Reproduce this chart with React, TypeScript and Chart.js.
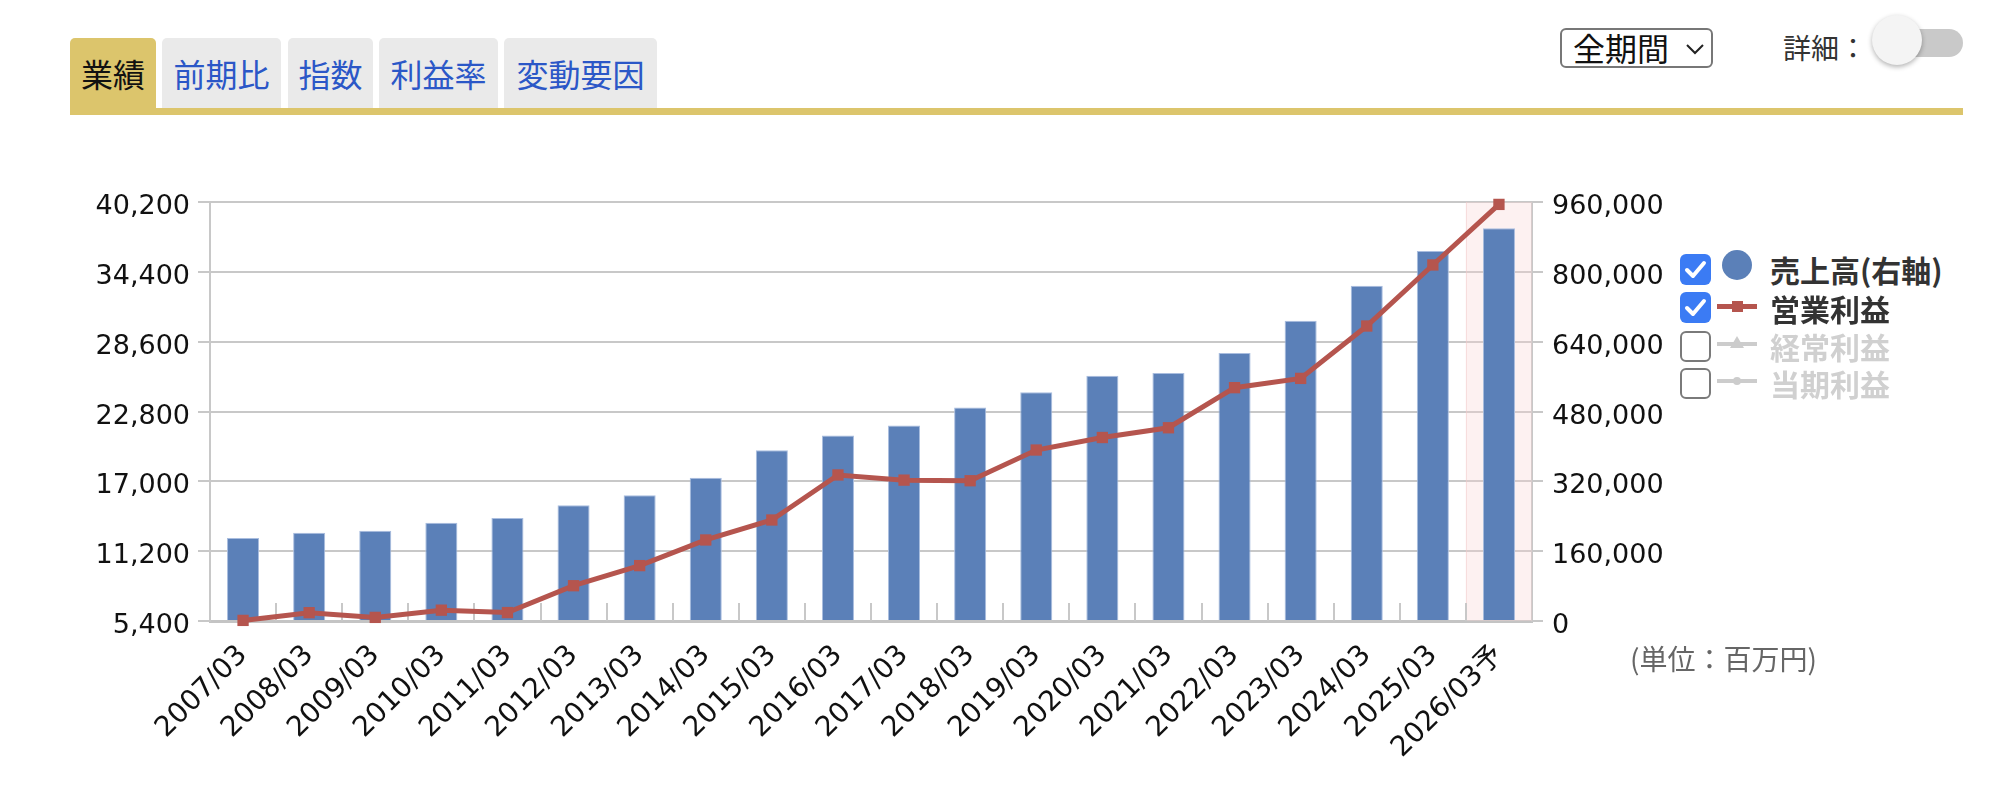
import React, { useEffect, useRef } from 'react';
import { Chart, registerables } from 'chart.js';

Chart.register(...registerables);

// ---- data ----
const categories = [
  '2007/03', '2008/03', '2009/03', '2010/03', '2011/03', '2012/03', '2013/03',
  '2014/03', '2015/03', '2016/03', '2017/03', '2018/03', '2019/03', '2020/03',
  '2021/03', '2022/03', '2023/03', '2024/03', '2025/03', '2026/03予',
];
// 売上高 (right axis)
const salesValues = [
  190000, 202000, 207000, 225000, 236000, 265000, 288000, 328000, 391000, 425000,
  448000, 489000, 524000, 562000, 568000, 614000, 688000, 768000, 848000, 900000,
];
// 営業利益 (left axis)
const opProfitValues = [
  5450, 6090, 5700, 6300, 6100, 8330, 10000, 12130, 13790, 17530,
  17100, 17050, 19600, 20640, 21450, 24780, 25550, 29900, 34970, 40000,
];
const leftAxisMin = 5400;
const leftAxisMax = 40200;
const leftAxisStep = 5800;
const rightAxisMin = 0;
const rightAxisMax = 960000;
const rightAxisStep = 160000;

const tabLabels = ['業績', '前期比', '指数', '利益率', '変動要因'];
const legendLabels = ['売上高(右軸)', '営業利益', '経常利益', '当期利益'];

const FONT_NUM = "'DejaVu Sans', 'Noto Sans CJK JP', sans-serif";
const FONT_JP = "'Noto Sans CJK JP', 'Noto Sans', sans-serif";

const BAR_COLOR = '#5b80b8';
const LINE_COLOR = '#b5554e';
const GRID_COLOR = '#c8c8c8';

const decorPlugin = {
  id: 'decor',
  beforeDatasetsDraw(chart: any) {
    const { ctx, chartArea } = chart;
    const xs = chart.scales.x;
    const n = categories.length;
    const half = (xs.getPixelForValue(1) - xs.getPixelForValue(0)) / 2;
    ctx.save();
    // forecast highlight
    const hx = xs.getPixelForValue(n - 1);
    ctx.fillStyle = 'rgba(248, 210, 210, 0.32)';
    ctx.fillRect(hx - half, chartArea.top, half * 2, chartArea.bottom - chartArea.top);
    ctx.strokeStyle = 'rgba(240, 200, 200, 0.55)';
    ctx.lineWidth = 1;
    ctx.beginPath();
    ctx.moveTo(hx - half + 0.5, chartArea.top);
    ctx.lineTo(hx - half + 0.5, chartArea.bottom);
    ctx.stroke();
    // inner category ticks
    ctx.strokeStyle = GRID_COLOR;
    ctx.lineWidth = 2;
    ctx.beginPath();
    for (let i = 1; i < n; i++) {
      const px = Math.round(xs.getPixelForValue(i) - half);
      ctx.moveTo(px, chartArea.bottom);
      ctx.lineTo(px, chartArea.bottom - 18);
    }
    ctx.stroke();
    ctx.restore();
  },
};

const fmt = (v: any) => Number(v).toLocaleString('en-US');

function CheckBox({ checked, top }: { checked: boolean; top: number }) {
  return (
    <div
      style={{
        position: 'absolute', left: 1680, top, width: 31, height: 31, boxSizing: 'border-box',
        borderRadius: 6, background: checked ? '#3b7bf4' : '#fff',
        border: checked ? 'none' : '2px solid #7a7a7a',
      }}
    >
      {checked && (
        <svg width="31" height="31" viewBox="0 0 31 31" style={{ position: 'absolute', left: 0, top: 0 }}>
          <path d="M7 16 L13 22 L24 9" fill="none" stroke="#fff" strokeWidth="4" strokeLinecap="round" strokeLinejoin="round" />
        </svg>
      )}
    </div>
  );
}

export default function App() {
  const canvasRef = useRef<HTMLCanvasElement | null>(null);

  useEffect(() => {
    if (!canvasRef.current) return;
    const chart = new Chart(canvasRef.current, {
      type: 'bar',
      data: {
        labels: categories,
        datasets: [
          {
            type: 'line',
            label: '営業利益',
            data: opProfitValues,
            yAxisID: 'y',
            borderColor: LINE_COLOR,
            backgroundColor: LINE_COLOR,
            borderWidth: 5,
            pointStyle: 'rect',
            pointRadius: 8,
            pointBorderWidth: 0,
            tension: 0,
            clip: false as any,
            order: 0,
          } as any,
          {
            type: 'bar',
            label: '売上高(右軸)',
            data: salesValues,
            yAxisID: 'y1',
            backgroundColor: BAR_COLOR,
            borderColor: '#a9bddf',
            borderWidth: 1,
            barPercentage: 0.485,
            categoryPercentage: 1,
            order: 1,
          } as any,
        ],
      },
      options: {
        animation: false,
        responsive: true,
        maintainAspectRatio: false,
        layout: { padding: { top: 52, left: 0, right: 0, bottom: 0 } },
        plugins: { legend: { display: false }, tooltip: { enabled: false } },
        font: { family: FONT_NUM, size: 27 } as any,
        scales: {
          x: {
            type: 'category',
            offset: true,
            grid: { display: false },
            border: { display: true, color: '#c4c4c4', width: 3 },
            ticks: {
              autoSkip: false,
              minRotation: 45,
              maxRotation: 45,
              padding: 10,
              color: '#111',
              font: { family: FONT_NUM, size: 28 },
            },
            afterFit: (s: any) => { s.height = 169; },
          },
          y: {
            type: 'linear',
            position: 'left',
            min: leftAxisMin,
            max: leftAxisMax,
            ticks: {
              stepSize: leftAxisStep,
              padding: 8,
              labelOffset: 5,
              color: '#111',
              font: { family: FONT_NUM, size: 27 },
              callback: (v: any) => fmt(v),
            },
            grid: { color: GRID_COLOR, lineWidth: 2, tickLength: 12, drawTicks: true },
            border: { display: true, color: GRID_COLOR, width: 2 },
            afterFit: (s: any) => { s.width = 150; },
          },
          y1: {
            type: 'linear',
            position: 'right',
            min: rightAxisMin,
            max: rightAxisMax,
            ticks: {
              stepSize: rightAxisStep,
              padding: 9,
              labelOffset: 5,
              color: '#111',
              font: { family: FONT_NUM, size: 27 },
              callback: (v: any) => fmt(v),
            },
            grid: { drawOnChartArea: false, color: GRID_COLOR, lineWidth: 2, tickLength: 11, drawTicks: true },
            border: { display: true, color: GRID_COLOR, width: 2 },
            afterFit: (s: any) => { s.width = 168; },
          },
        },
      } as any,
      plugins: [decorPlugin],
    });
    return () => chart.destroy();
  }, []);

  const tabLefts = [70, 162, 288, 379, 504];
  const tabWidths = [86, 119, 85, 119, 153];
  const rowCenters = [267, 306, 344, 381];

  return (
    <div style={{ position: 'absolute', left: 0, top: 0, width: 1990, height: 790, overflow: 'hidden', background: '#fff' }}>
      {/* tabs */}
      {tabLabels.map((t, i) => (
        <div
          key={t}
          style={{
            position: 'absolute', left: tabLefts[i], top: 38, width: tabWidths[i], height: i === 0 ? 72 : 70,
            background: i === 0 ? '#dcc56c' : '#eaeaea', borderRadius: '5px 5px 0 0',
            font: `32px ${FONT_JP}`, lineHeight: '70px', textAlign: 'center',
            color: i === 0 ? '#111' : '#2b57c7',
          }}
        >
          {t}
        </div>
      ))}
      <div style={{ position: 'absolute', left: 70, top: 108, width: 1893, height: 7, background: '#dcc56c' }} />

      {/* period select */}
      <div
        style={{
          position: 'absolute', left: 1560, top: 28, width: 153, height: 40, boxSizing: 'border-box',
          border: '2px solid #777', borderRadius: 6, background: '#fff',
        }}
      >
        <div style={{ position: 'absolute', left: 11, top: -6, height: 40, lineHeight: '40px', font: `32px ${FONT_JP}`, color: '#111' }}>
          全期間
        </div>
        <svg width="20" height="12" viewBox="0 0 20 12" style={{ position: 'absolute', left: 123, top: 13 }}>
          <path d="M2 2 L10 10 L18 2" fill="none" stroke="#222" strokeWidth="2" />
        </svg>
      </div>

      {/* detail toggle */}
      <div style={{ position: 'absolute', left: 1783, top: 27, height: 38, lineHeight: '38px', font: `28px ${FONT_JP}`, color: '#333' }}>
        詳細：
      </div>
      <div style={{ position: 'absolute', left: 1873, top: 29, width: 90, height: 28, borderRadius: 14, background: '#c9c9c9' }} />
      <div
        style={{
          position: 'absolute', left: 1872, top: 15, width: 50, height: 50, borderRadius: 25, background: '#f4f4f4',
          boxShadow: '0 2px 5px rgba(0,0,0,0.3)',
        }}
      />

      {/* chart */}
      <div style={{ position: 'absolute', left: 60, top: 150, width: 1640, height: 640 }}>
        <canvas ref={canvasRef} />
      </div>

      {/* legend */}
      <CheckBox checked top={rowCenters[0] - 13} />
      <div style={{ position: 'absolute', left: 1722, top: rowCenters[0] - 17, width: 30, height: 30, borderRadius: 15, background: BAR_COLOR }} />
      <CheckBox checked top={rowCenters[1] - 14} />
      <div style={{ position: 'absolute', left: 1717, top: rowCenters[1] - 2, width: 40, height: 5, background: LINE_COLOR }} />
      <div style={{ position: 'absolute', left: 1732, top: rowCenters[1] - 5, width: 11, height: 11, background: LINE_COLOR }} />
      <CheckBox checked={false} top={rowCenters[2] - 13} />
      <div style={{ position: 'absolute', left: 1717, top: rowCenters[2] - 2, width: 40, height: 4, background: '#cccccc' }} />
      <svg width="14" height="12" viewBox="0 0 14 12" style={{ position: 'absolute', left: 1730, top: rowCenters[2] - 8 }}>
        <path d="M7 0 L14 12 L0 12 Z" fill="#cccccc" />
      </svg>
      <CheckBox checked={false} top={rowCenters[3] - 13} />
      <div style={{ position: 'absolute', left: 1717, top: rowCenters[3] - 2, width: 40, height: 4, background: '#cccccc' }} />
      <div style={{ position: 'absolute', left: 1733, top: rowCenters[3] - 4, width: 8, height: 8, borderRadius: 4, background: '#cccccc' }} />
      {legendLabels.map((t, i) => (
        <div
          key={t}
          style={{
            position: 'absolute', left: 1770, top: rowCenters[i] - 20, height: 40, lineHeight: '40px',
            font: `bold 30px ${FONT_JP}`, color: i < 2 ? '#333' : '#d0d0d0', whiteSpace: 'nowrap',
          }}
        >
          {t}
        </div>
      ))}

      {/* unit */}
      <div style={{ position: 'absolute', left: 1630, top: 638, height: 40, lineHeight: '40px', font: `28px ${FONT_JP}`, color: '#666', whiteSpace: 'nowrap' }}>
        (単位：百万円)
      </div>
    </div>
  );
}
